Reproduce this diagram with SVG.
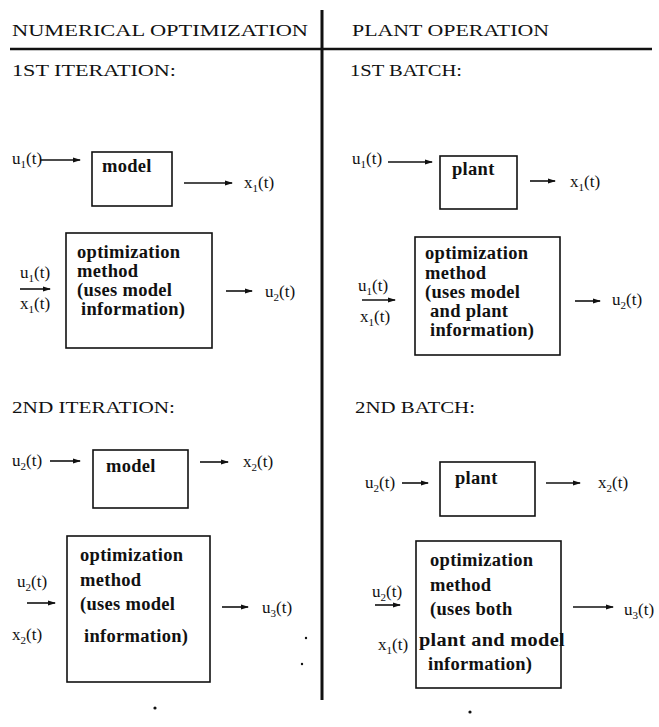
<svg xmlns="http://www.w3.org/2000/svg" width="659" height="727" viewBox="0 0 659 727">
<defs>
<marker id="ah" markerWidth="8" markerHeight="6" refX="7" refY="3" orient="auto" markerUnits="userSpaceOnUse">
<path d="M0,0.5 L8,3 L0,5.5 Z" fill="#111"/>
</marker>
<style>
text{font-family:"Liberation Serif","DejaVu Serif",serif;fill:#111}
.hd{font-size:17px}
.lb{font-size:17px}
.bx{font-size:18.5px;font-weight:bold;letter-spacing:0.3px}
.sb{font-size:11px}
rect{fill:none;stroke:#111;stroke-width:1.6}
.ar{stroke:#111;stroke-width:1.6;fill:none;marker-end:url(#ah)}
.rule{stroke:#111;fill:none}
</style>
</defs>
<rect x="0" y="0" width="659" height="727" style="fill:#fff;stroke:none"/>

<g id="frame">
<line class="rule" x1="322" y1="10" x2="322" y2="700" stroke-width="3"/>
<line class="rule" x1="10" y1="49" x2="652" y2="49" stroke-width="2.5"/>
<text class="hd" x="12" y="36" textLength="296" lengthAdjust="spacingAndGlyphs">NUMERICAL OPTIMIZATION</text>
<text class="hd" x="352" y="36" textLength="197" lengthAdjust="spacingAndGlyphs">PLANT OPERATION</text>
<text class="hd" x="12" y="76" textLength="164" lengthAdjust="spacingAndGlyphs">1ST ITERATION:</text>
<text class="hd" x="350" y="76" textLength="112" lengthAdjust="spacingAndGlyphs">1ST BATCH:</text>
<text class="hd" x="12" y="413" textLength="163" lengthAdjust="spacingAndGlyphs">2ND ITERATION:</text>
<text class="hd" x="355" y="413" textLength="120" lengthAdjust="spacingAndGlyphs">2ND BATCH:</text>
</g>

<g id="connectors">
<line class="ar" x1="40" y1="160" x2="80" y2="160"/>
<line class="ar" x1="184" y1="183" x2="232" y2="183"/>
<line class="ar" x1="20" y1="289" x2="50" y2="289"/>
<line class="ar" x1="226" y1="291" x2="252" y2="291"/>
<line class="ar" x1="50" y1="461" x2="80" y2="461"/>
<line class="ar" x1="200" y1="462" x2="228" y2="462"/>
<line class="ar" x1="27" y1="603" x2="55" y2="603"/>
<line class="ar" x1="222" y1="607" x2="248" y2="607"/>
<line class="ar" x1="388" y1="162" x2="432" y2="162"/>
<line class="ar" x1="530" y1="181" x2="555" y2="181"/>
<line class="ar" x1="362" y1="300" x2="395" y2="300"/>
<line class="ar" x1="575" y1="301" x2="600" y2="301"/>
<line class="ar" x1="402" y1="483" x2="428" y2="483"/>
<line class="ar" x1="546" y1="483" x2="580" y2="483"/>
<line class="ar" x1="375" y1="605" x2="400" y2="605"/>
<line class="ar" x1="573" y1="607" x2="613" y2="607"/>
</g>

<g id="model1">
<rect x="92" y="152" width="80" height="54"/>
<text class="bx" x="102" y="172">model</text>
</g>
<g id="opt1">
<rect x="66" y="233" width="146" height="115"/>
<text class="bx" x="77" y="258">optimization</text>
<text class="bx" x="77" y="277">method</text>
<text class="bx" x="77" y="296">(uses model</text>
<text class="bx" x="81" y="315">information)</text>
</g>
<g id="model2">
<rect x="93" y="450" width="95" height="58"/>
<text class="bx" x="106" y="472">model</text>
</g>
<g id="opt2">
<rect x="67" y="536" width="143" height="146"/>
<text class="bx" x="80" y="561">optimization</text>
<text class="bx" x="80" y="586">method</text>
<text class="bx" x="80" y="610">(uses model</text>
<text class="bx" x="84" y="642">information)</text>
</g>
<g id="plant1">
<rect x="440" y="156" width="77" height="53"/>
<text class="bx" x="452" y="175">plant</text>
</g>
<g id="opt3">
<rect x="415" y="237" width="145" height="118"/>
<text class="bx" x="425" y="259">optimization</text>
<text class="bx" x="425" y="279">method</text>
<text class="bx" x="425" y="298">(uses model</text>
<text class="bx" x="430" y="317">and plant</text>
<text class="bx" x="430" y="336">information)</text>
</g>
<g id="plant2">
<rect x="440" y="462" width="95" height="54"/>
<text class="bx" x="455" y="484">plant</text>
</g>
<g id="opt4">
<rect x="416" y="541" width="145" height="147"/>
<text class="bx" x="430" y="566">optimization</text>
<text class="bx" x="430" y="591">method</text>
<text class="bx" x="430" y="615">(uses both</text>
<text class="bx" x="419" y="646" textLength="146" lengthAdjust="spacingAndGlyphs">plant and model</text>
<text class="bx" x="428" y="670">information)</text>
</g>

<g id="labels">
<text class="lb" x="12" y="164">u<tspan class="sb" dy="4">1</tspan><tspan dy="-4">(t)</tspan></text>
<text class="lb" x="244" y="188">x<tspan class="sb" dy="4">1</tspan><tspan dy="-4">(t)</tspan></text>
<text class="lb" x="20" y="278">u<tspan class="sb" dy="4">1</tspan><tspan dy="-4">(t)</tspan></text>
<text class="lb" x="20" y="309">x<tspan class="sb" dy="4">1</tspan><tspan dy="-4">(t)</tspan></text>
<text class="lb" x="265" y="297">u<tspan class="sb" dy="4">2</tspan><tspan dy="-4">(t)</tspan></text>
<text class="lb" x="12" y="466">u<tspan class="sb" dy="4">2</tspan><tspan dy="-4">(t)</tspan></text>
<text class="lb" x="243" y="467">x<tspan class="sb" dy="4">2</tspan><tspan dy="-4">(t)</tspan></text>
<text class="lb" x="17" y="587">u<tspan class="sb" dy="4">2</tspan><tspan dy="-4">(t)</tspan></text>
<text class="lb" x="12" y="640">x<tspan class="sb" dy="4">2</tspan><tspan dy="-4">(t)</tspan></text>
<text class="lb" x="262" y="613">u<tspan class="sb" dy="4">3</tspan><tspan dy="-4">(t)</tspan></text>
<text class="lb" x="352" y="164">u<tspan class="sb" dy="4">1</tspan><tspan dy="-4">(t)</tspan></text>
<text class="lb" x="570" y="187">x<tspan class="sb" dy="4">1</tspan><tspan dy="-4">(t)</tspan></text>
<text class="lb" x="358" y="291">u<tspan class="sb" dy="4">1</tspan><tspan dy="-4">(t)</tspan></text>
<text class="lb" x="360" y="322">x<tspan class="sb" dy="4">1</tspan><tspan dy="-4">(t)</tspan></text>
<text class="lb" x="612" y="305">u<tspan class="sb" dy="4">2</tspan><tspan dy="-4">(t)</tspan></text>
<text class="lb" x="365" y="488">u<tspan class="sb" dy="4">2</tspan><tspan dy="-4">(t)</tspan></text>
<text class="lb" x="598" y="488">x<tspan class="sb" dy="4">2</tspan><tspan dy="-4">(t)</tspan></text>
<text class="lb" x="372" y="597">u<tspan class="sb" dy="4">2</tspan><tspan dy="-4">(t)</tspan></text>
<text class="lb" x="378" y="650">x<tspan class="sb" dy="4">1</tspan><tspan dy="-4">(t)</tspan></text>
<text class="lb" x="624" y="615">u<tspan class="sb" dy="4">3</tspan><tspan dy="-4">(t)</tspan></text>
</g>

<g id="specks" fill="#111">
<circle cx="155" cy="708" r="1.6"/>
<circle cx="470" cy="712" r="1.6"/>
<circle cx="306" cy="638" r="1.2"/>
<circle cx="302" cy="664" r="1.2"/>
</g>
</svg>
